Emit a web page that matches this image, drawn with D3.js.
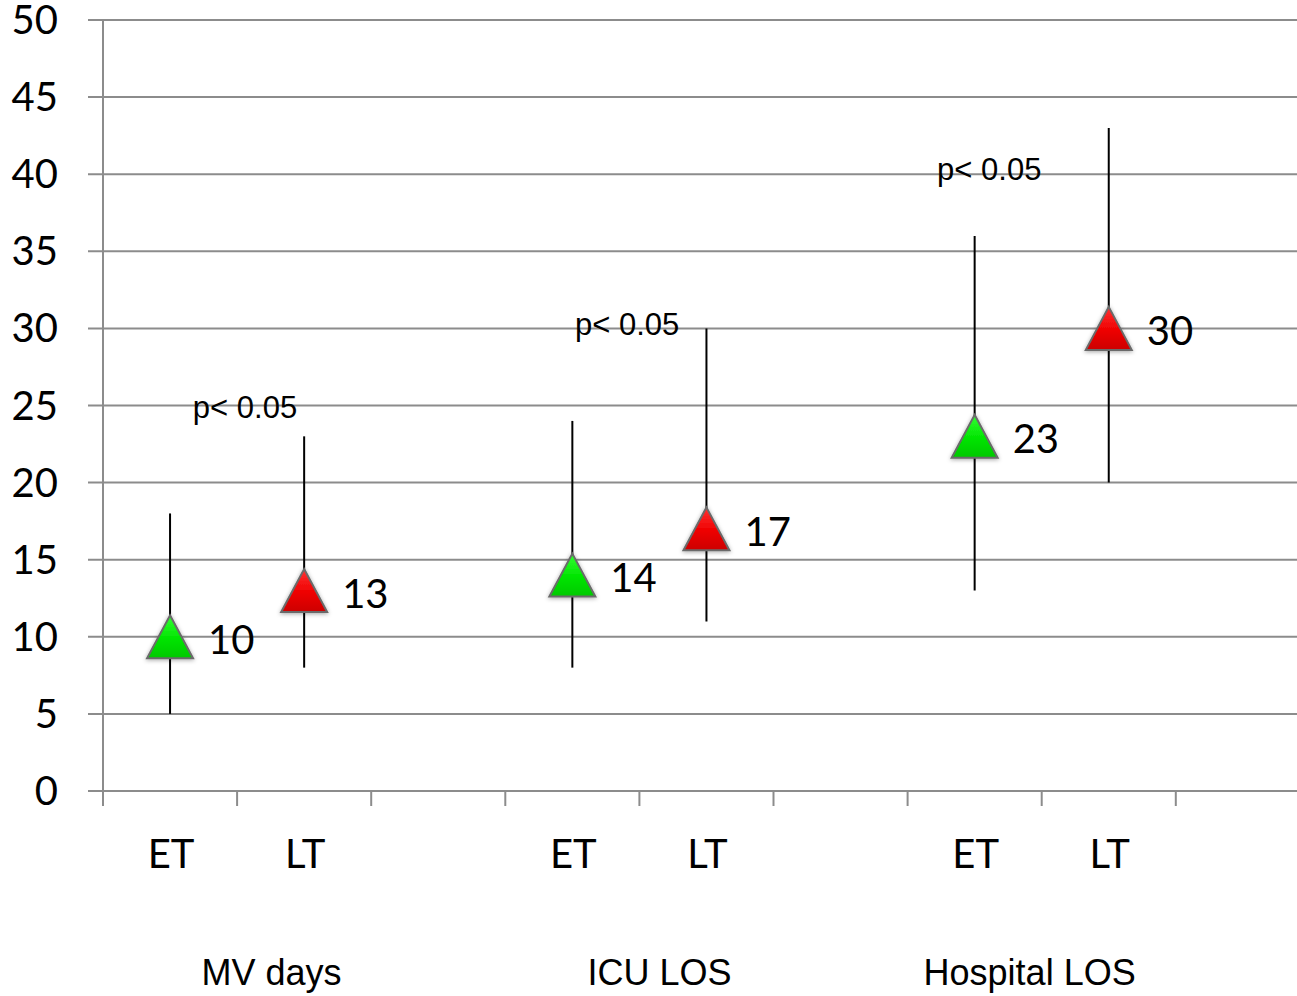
<!DOCTYPE html>
<html>
<head>
<meta charset="utf-8">
<script src="https://cdn.jsdelivr.net/npm/d3@7"></script>
<style>
  html, body { margin: 0; padding: 0; background: #fff; }
  svg { display: block; }
</style>
</head>
<body>
<svg id="chart" width="1297" height="996"></svg>
<script>
// Outcome measures, early (ET) vs late (LT) tracheostomy
const groups = ["MV days", "ICU LOS", "Hospital LOS"];
const slotLabels = ["ET", "LT", ""];
const etMean = [10, 14, 23];
const etLow  = [5, 8, 13];
const etHigh = [18, 24, 36];
const ltMean = [13, 17, 30];
const ltLow  = [8, 11, 20];
const ltHigh = [23, 30, 43];
const yTicks = [0, 5, 10, 15, 20, 25, 30, 35, 40, 45, 50];
const pText = "p< 0.05";

// significance notes, placed in slot / value units
const pNotes = [
  { slot: 0.67, value: 24.2 },
  { slot: 3.52, value: 29.6 },
  { slot: 6.22, value: 39.6 }
];
// group caption centres in slot units
const groupCentres = [1.257, 4.15, 6.91];

const svg = d3.select("#chart");
const plotLeft = 103, plotTop = 20, plotBottom = 791;
const step = 134.1;
const nSlots = groups.length * slotLabels.length;

const slots = d3.range(nSlots);
const x = d3.scaleBand().domain(slots).range([plotLeft, plotLeft + step * nSlots]).paddingInner(0).paddingOuter(0);
const xs = d3.scaleLinear().domain([0, nSlots]).range([plotLeft, plotLeft + step * nSlots]);
const y = d3.scaleLinear().domain([0, 50]).range([plotBottom, plotTop]);

const grid = "#8c8c8c";
const labelFont = "Lato, 'Open Sans', sans-serif";
const arial = "'Liberation Sans', Arial, sans-serif";

// defs: gradients and soft shadow for the markers
const defs = svg.append("defs");
function grad(id, light, mid, dark) {
  const g = defs.append("linearGradient").attr("id", id)
    .attr("x1", "0").attr("y1", "0").attr("x2", "0").attr("y2", "1");
  g.append("stop").attr("offset", "0%").attr("stop-color", light);
  g.append("stop").attr("offset", "55%").attr("stop-color", mid);
  g.append("stop").attr("offset", "100%").attr("stop-color", dark);
}
grad("gEt", "#33ff33", "#00e400", "#00c800");
grad("gLt", "#ff3333", "#ee0000", "#cc0000");
const f = defs.append("filter").attr("id", "shadow")
  .attr("x", "-30%").attr("y", "-30%").attr("width", "160%").attr("height", "160%");
f.append("feDropShadow").attr("dx", 0).attr("dy", 1).attr("stdDeviation", 2)
  .attr("flood-color", "#000").attr("flood-opacity", 0.35);

// horizontal gridlines
svg.append("g").selectAll("line").data(yTicks).join("line")
  .attr("x1", plotLeft - 15).attr("x2", 1297)
  .attr("y1", d => y(d)).attr("y2", d => y(d))
  .attr("stroke", grid).attr("stroke-width", 2);

// y axis line
svg.append("line")
  .attr("x1", plotLeft).attr("x2", plotLeft).attr("y1", y(50)).attr("y2", y(0) + 15)
  .attr("stroke", grid).attr("stroke-width", 2);

// y tick labels
svg.append("g").selectAll("text").data(yTicks).join("text")
  .attr("x", 58).attr("y", d => y(d) + 14)
  .attr("text-anchor", "end")
  .attr("font-family", labelFont).attr("font-size", 40)
  .attr("fill", "#000")
  .text(d => d);

// x axis ticks at slot boundaries
svg.append("g").selectAll("line").data(slots.concat([nSlots])).join("line")
  .attr("x1", d => xs(d)).attr("x2", d => xs(d))
  .attr("y1", y(0)).attr("y2", y(0) + 15)
  .attr("stroke", grid).attr("stroke-width", 2);

// slot labels (ET / LT)
svg.append("g").selectAll("text").data(slots).join("text")
  .attr("x", d => x(d) + x.bandwidth() / 2 + 1)
  .attr("y", 868)
  .attr("text-anchor", "middle")
  .attr("font-family", labelFont).attr("font-size", 40)
  .attr("fill", "#000")
  .text(d => slotLabels[d % slotLabels.length]);

// group captions
svg.append("g").selectAll("text").data(groups).join("text")
  .attr("x", (d, i) => xs(groupCentres[i]))
  .attr("y", 985)
  .attr("text-anchor", "middle")
  .attr("font-family", arial).attr("font-size", 36)
  .attr("fill", "#000")
  .text(d => d);

// assemble points
const points = [];
groups.forEach((g, i) => {
  const base = i * slotLabels.length;
  points.push({ slot: base, mean: etMean[i], lo: etLow[i], hi: etHigh[i], fill: "url(#gEt)" });
  points.push({ slot: base + 1, mean: ltMean[i], lo: ltLow[i], hi: ltHigh[i], fill: "url(#gLt)" });
});
const cx = d => x(d.slot) + x.bandwidth() / 2;

// error bars
svg.append("g").selectAll("line").data(points).join("line")
  .attr("x1", cx).attr("x2", cx)
  .attr("y1", d => y(d.lo)).attr("y2", d => y(d.hi))
  .attr("stroke", "#000").attr("stroke-width", 2);

// triangle markers
const tw = 46, th = 43;
const tri = `M0,${-th / 2} L${tw / 2},${th / 2} L${-tw / 2},${th / 2} Z`;
svg.append("g").selectAll("path").data(points).join("path")
  .attr("d", tri)
  .attr("transform", d => `translate(${cx(d)},${y(d.mean)})`)
  .attr("fill", d => d.fill)
  .attr("stroke", "#6a6a6a").attr("stroke-width", 2).attr("stroke-linejoin", "miter")
  .attr("filter", "url(#shadow)");

// value labels
svg.append("g").selectAll("text").data(points).join("text")
  .attr("x", d => cx(d) + 38)
  .attr("y", d => y(d.mean) + 17)
  .attr("font-family", labelFont).attr("font-size", 40)
  .attr("fill", "#000")
  .text(d => d.mean);

// significance notes
svg.append("g").selectAll("text").data(pNotes).join("text")
  .attr("x", d => xs(d.slot))
  .attr("y", d => y(d.value))
  .attr("font-family", arial).attr("font-size", 31)
  .attr("fill", "#000")
  .text(pText);
</script>
</body>
</html>
